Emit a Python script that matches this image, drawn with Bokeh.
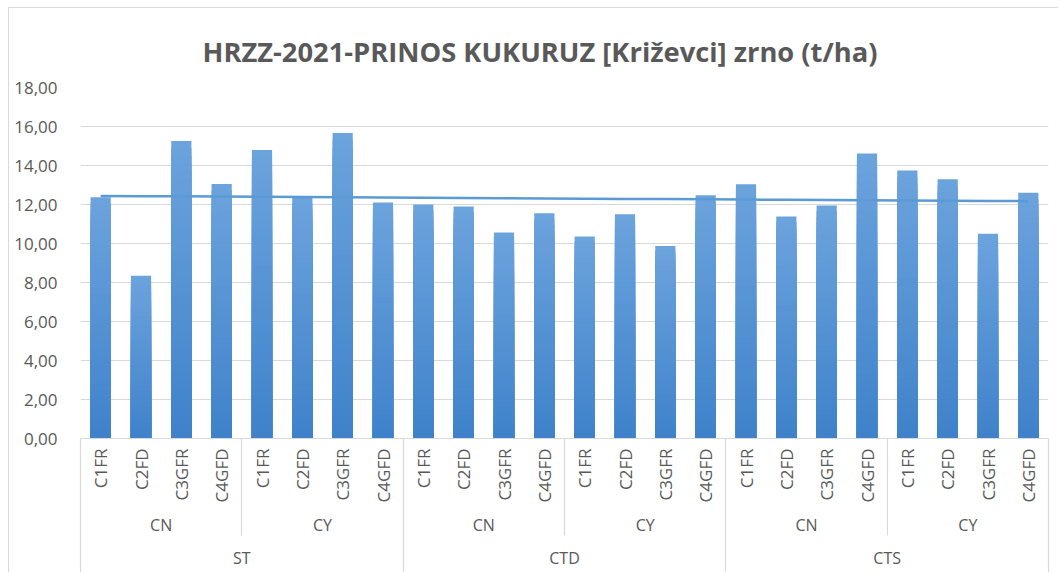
import numpy as np
from bokeh.plotting import figure
from bokeh.models import (CustomJSTickFormatter, ColumnDataSource, Range1d,
                          LinearAxis, FixedTicker)
from bokeh.embed import file_html
from bokeh.resources import INLINE

sites = ["ST", "CTD", "CTS"]
treatments = ["CN", "CY"]
variants = ["C1FR", "C2FD", "C3GFR", "C4GFD"]
yields = [12.37, 8.35, 15.26, 13.05, 14.80, 12.37, 15.67, 12.10,
          12.00, 11.90, 10.57, 11.55, 10.36, 11.50, 9.87, 12.47,
          13.04, 11.39, 11.95, 14.62, 13.75, 13.30, 10.50, 12.60]

factors = [(s, t, v) for s in sites for t in treatments for v in variants]
n = len(factors)
n_var = len(variants)
n_sub = len(treatments) * n_var
pos = np.arange(n) + 0.5            # category centres on a 0..n axis
slope, intercept = np.polyfit(pos, yields, 1)
trend = list(intercept + slope * pos)

TXT = "#595959"
FONT = "Open Sans"
GRID = "#d9d9d9"

p = figure(width=1050, height=565, output_backend="svg", toolbar_location=None,
           x_range=Range1d(0, n), y_range=Range1d(0, 18), x_axis_type=None,
           min_border_left=71, min_border_right=11, min_border_top=79, min_border_bottom=135)

p.title.text = "HRZZ-2021-PRINOS KUKURUZ [Križevci] zrno (t/ha)"
p.title.align = "left"
p.title.offset = 122
p.title.vertical_align = "top"
p.title.text_font = FONT
p.title.text_font_size = "27.3px"
p.title.text_color = TXT
p.title.text_font_style = "bold"
p.title.standoff = 31

# gradient-filled bars: overlapping layers, lighter at the top, darker at the base
N = 40
top_c = np.array([0x6c, 0xa3, 0xdd])
bot_c = np.array([0x3f, 0x82, 0xca])
xs, tops, cols = [], [], []
for k in range(N, 0, -1):
    t = (k - 0.5) / N
    c = (bot_c + (top_c - bot_c) * t).round().astype(int)
    col = "#%02x%02x%02x" % tuple(c)
    for x, y in zip(pos, yields):
        xs.append(x)
        tops.append(y * k / N)
        cols.append(col)
bars = ColumnDataSource(dict(x=xs, top=tops, color=cols))
p.vbar(x="x", bottom=0, top="top", width=0.5, source=bars,
       fill_color="color", line_color=None)

src = ColumnDataSource(dict(x=pos, trend=trend))
p.line(x="x", y="trend", source=src, line_color="#5b9bd5", line_width=2.5)

p.outline_line_color = None
p.ygrid.grid_line_color = GRID
p.ygrid.grid_line_width = 1

p.yaxis.ticker = list(range(0, 19, 2))
p.yaxis.formatter = CustomJSTickFormatter(code="return tick.toFixed(2).replace('.', ',');")
p.yaxis.axis_line_color = None
p.yaxis.major_tick_line_color = None
p.yaxis.minor_tick_line_color = None
p.yaxis.major_label_text_font = FONT
p.yaxis.major_label_text_font_size = "17px"
p.yaxis.major_label_text_color = TXT
p.yaxis.major_label_standoff = 17

# 1) axis line + group separators running downward (no labels, ~zero extent)
sep = LinearAxis(ticker=FixedTicker(ticks=list(range(0, n + 1, n_sub)),
                                    minor_ticks=[b for b in range(0, n + 1, n_var) if b % n_sub]),
                 axis_line_color=GRID,
                 major_tick_in=-135, major_tick_out=0,
                 minor_tick_in=-97, minor_tick_out=0,
                 major_tick_line_color=GRID, minor_tick_line_color=GRID,
                 major_tick_line_width=1.2, minor_tick_line_width=1.2,
                 major_label_text_font_size="0px", major_label_text_alpha=0,
                 major_label_standoff=0)
p.add_layout(sep, "below")

def label_axis(labels, step, standoff, size, vertical=False):
    ticks = [i * step + step / 2 for i in range(len(labels))]
    ax = LinearAxis(ticker=FixedTicker(ticks=ticks, minor_ticks=[]),
                    formatter=CustomJSTickFormatter(args=dict(labels=labels, step=step),
                                                    code="return labels[Math.floor(tick / step)];"),
                    axis_line_color=None, major_tick_line_color=None, minor_tick_line_color=None,
                    major_tick_in=0, major_tick_out=0,
                    major_label_standoff=standoff,
                    major_label_text_font=FONT, major_label_text_font_size=size,
                    major_label_text_color=TXT)
    if vertical:
        ax.major_label_orientation = np.pi / 2
    p.add_layout(ax, "below")
    return ax

label_axis([f[2] for f in factors], 1, 10, "17px", vertical=True)
label_axis([f[1] for f in factors[::n_var]], n_var, 8, "16px")
label_axis([f[0] for f in factors[::n_sub]], n_sub, 8, "16px")

p.styles = {"margin-left": "8px", "margin-top": "7px",
            "border-left": "1px solid #d9d9d9", "border-top": "1px solid #d9d9d9"}

open("out.html", "w").write(file_html(p, INLINE))
